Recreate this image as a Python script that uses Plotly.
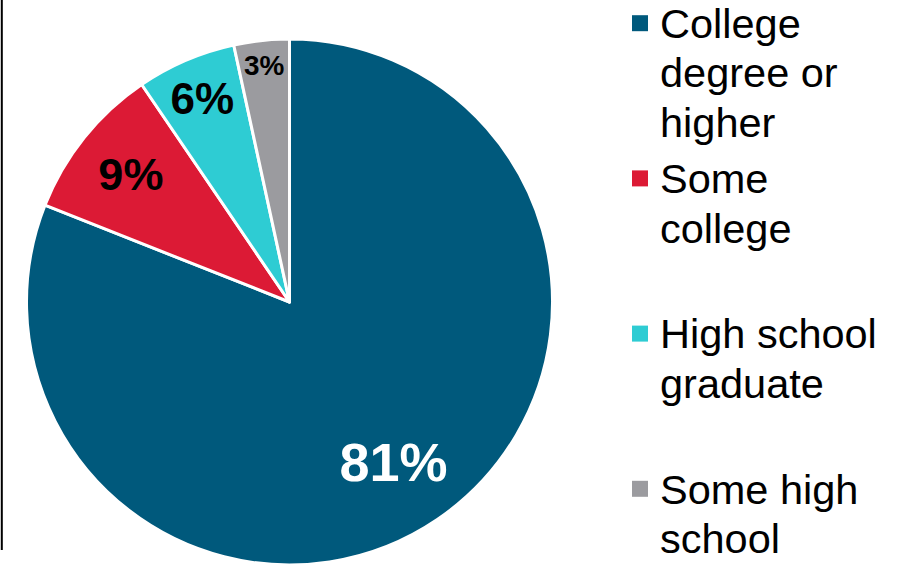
import plotly.graph_objects as go

categories = ["College<br>degree or<br>higher", "Some<br>college<br> ", "High school<br>graduate<br> ", "Some high<br>school"]
values = [81.0, 9.5, 6.1, 3.4]
display_labels = ["81%", "9%", "6%", "3%"]
colors = ["#00597C", "#DC1A35", "#2ECCD3", "#9B9B9F"]
text_colors = ["white", "black", "black", "black"]
text_sizes = [54, 45, 44, 30]

FONT = "Liberation Sans, Arial, sans-serif"

# nudge the big label outward inside its slice (blank spacer line + leading spaces)
slice_text = list(display_labels)
slice_text[0] = '<span style="font-size:90px">\u00a0</span><br>\u00a0\u00a0\u00a0\u00a0' + display_labels[0]

# legend glyphs a bit larger than the line pitch (tight line spacing like the original)
def legend_name(cat):
    return "<br>".join('<span style="font-size:41.5px">%s</span>' % ln for ln in cat.split("<br>"))

fig = go.Figure()
fig.add_trace(go.Pie(
    labels=categories,
    values=values,
    text=slice_text,
    textinfo="text",
    textposition="inside",
    insidetextorientation="horizontal",
    sort=False,
    direction="clockwise",
    rotation=0,
    marker=dict(colors=colors, line=dict(color="white", width=3)),
    textfont=dict(family=FONT, size=text_sizes, color=text_colors, weight="bold"),
    domain=dict(x=[26.5/902, 552.5/902], y=[0, 526/565]),
    showlegend=False,
    hoverinfo="label+percent",
))

# legend entries with larger square swatches
for name, col in zip(categories, colors):
    fig.add_trace(go.Scatter(x=[None], y=[None], mode="markers", name=legend_name(name),
                             legendgroup=name,
                             marker=dict(symbol="square", size=18, color=col),
                             showlegend=True, hoverinfo="skip"))

fig.add_shape(type="line", xref="paper", yref="paper", x0=0.002, x1=0.002, y0=15/565, y1=1,
              line=dict(color="black", width=2))

fig.update_layout(
    width=902, height=565,
    margin=dict(l=0, r=0, t=0, b=0, autoexpand=False),
    paper_bgcolor="white", plot_bgcolor="white",
    font=dict(family=FONT, color="black"),
    xaxis=dict(visible=False), yaxis=dict(visible=False),
    showlegend=True,
    legend=dict(x=620/902, xanchor="left", y=1 + 8/565, yanchor="top",
                font=dict(family=FONT, size=38, color="black"),
                valign="top", traceorder="grouped", tracegroupgap=4,
                bgcolor="rgba(0,0,0,0)", itemsizing="trace", maxheight=800),
)

fig.write_html("out.html", post_script="document.body.style.margin='0';",
               config={"displayModeBar": False})
